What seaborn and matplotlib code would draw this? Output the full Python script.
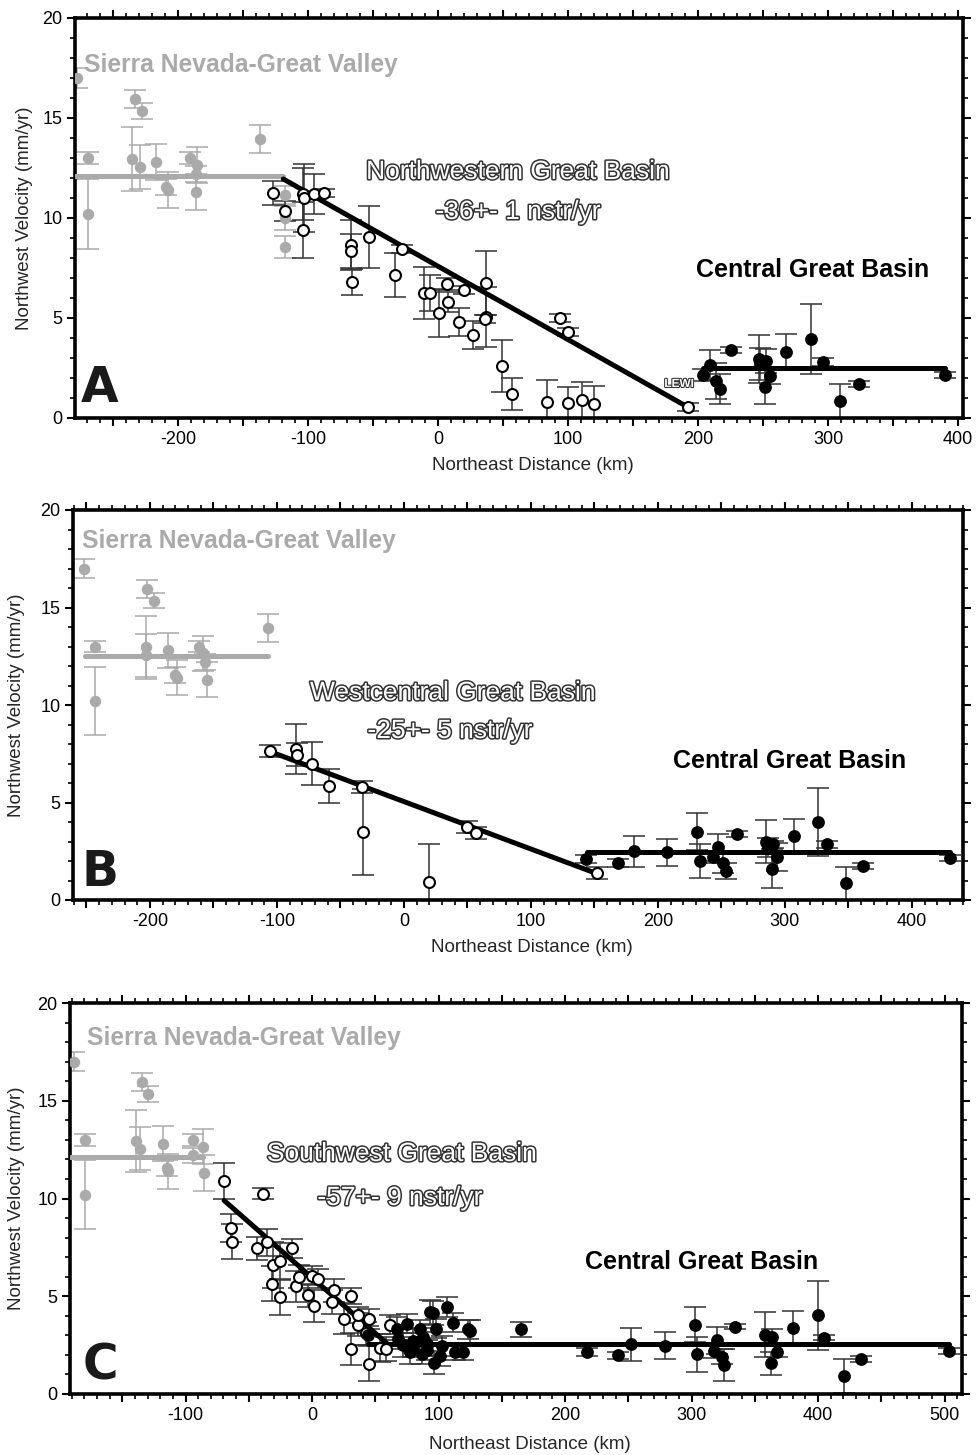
import matplotlib
matplotlib.use("Agg")
import matplotlib.pyplot as plt
import matplotlib.patheffects as pe
from matplotlib.ticker import MultipleLocator, FuncFormatter
import seaborn as sns

# ---------------- data ----------------
# Sierra Nevada - Great Valley (gray), velocity & error (same stations in every panel)
sn_v   = [17.0, 13.0, 10.2, 15.95, 15.35, 12.95, 12.55, 12.8, 11.55, 11.4, 13.0, 12.65, 12.2, 11.3, 13.95]
sn_err = [0.5, 0.3, 1.75, 0.45, 0.4, 1.6, 1.1, 0.9, 0.4, 0.9, 0.3, 0.9, 0.4, 0.9, 0.7]
sn_xA  = [-278, -269, -269, -233, -228, -235, -229, -217, -209, -208, -191, -185, -186, -186, -137]
sn_xB  = [-252, -243, -243, -202, -197, -203, -203, -186, -180, -179, -161, -158, -157, -155, -107]
sn_xC  = [-188, -179.5, -179.5, -134, -129.5, -139, -136, -118, -114.5, -114, -94, -86, -94, -85, None]
# extra gray stations in panel A
snA_extra_x   = [-118, -118, -118]
snA_extra_v   = [11.15, 10.0, 8.55]
snA_extra_err = [0.45, 0.6, 0.55]

# Panel A: Northwestern Great Basin (open)
nwA_x   = [-127, -118, -104, -103, -104, -95, -88, -67, -67, -66, -53, -33, -28, -11, -6, 1, 7, 8,
           16, 20, 27, 37, 37, 36, 49, 57, 84, 100, 111, 120, 94, 100, 192]
nwA_v   = [11.25, 10.35, 11.2, 11.0, 9.4, 11.2, 11.25, 8.65, 8.35, 6.8, 9.05, 7.15, 8.45, 6.25, 6.25, 5.25, 6.7, 5.8,
           4.8, 6.4, 4.15, 6.75, 5.05, 4.95, 2.6, 1.2, 0.8, 0.75, 0.9, 0.7, 5.0, 4.3, 0.55]
nwA_err = [0.6, 0.5, 1.3, 1.7, 1.4, 1.0, 0.2, 1.25, 0.85, 0.65, 1.55, 1.1, 0.2, 1.3, 0.9, 1.2, 0.3, 0.5,
           0.7, 0.2, 0.7, 1.6, 1.5, 0.2, 1.3, 0.8, 1.1, 0.8, 0.9, 0.9, 0.2, 0.2, 0.2]
# Panel A: Central Great Basin (filled)
cgA_x   = [204, 209, 214, 217, 225.5, 247, 248, 252, 251.5, 255.5, 268, 287, 296, 309, 324, 390]
cgA_v   = [2.15, 2.65, 1.85, 1.45, 3.4, 2.95, 2.7, 2.85, 1.55, 2.1, 3.3, 3.95, 2.8, 0.85, 1.7, 2.15]
cgA_err = [0.3, 0.75, 0.9, 0.75, 0.15, 1.2, 0.8, 0.6, 0.85, 0.4, 0.9, 1.75, 0.2, 0.85, 0.15, 0.15]

# Panel B: Westcentral Great Basin (open)
wcB_x   = [-105.5, -85, -84, -72.5, -59, -33, -32, 20, 50, 57, 152]
wcB_v   = [7.65, 7.75, 7.45, 7.0, 5.85, 5.8, 3.5, 0.9, 3.75, 3.45, 1.4]
wcB_err = [0.3, 1.3, 0.6, 1.1, 0.85, 0.3, 2.2, 1.95, 0.3, 0.3, 0.3]
# Panel B: Central Great Basin (filled)
cgB_x   = [143, 168.5, 181, 207, 230.5, 233, 243, 247, 251, 253.5, 262, 285, 287, 290.5, 290, 294,
           307, 326, 333, 348, 361.5, 430]
cgB_v   = [2.1, 1.9, 2.5, 2.45, 3.5, 2.0, 2.2, 2.7, 1.9, 1.5, 3.4, 3.0, 2.7, 2.85, 1.6, 2.2,
           3.3, 4.0, 2.85, 0.85, 1.75, 2.15]
cgB_err = [0.2, 0.2, 0.8, 0.7, 0.95, 0.85, 0.3, 0.7, 0.5, 0.4, 0.15, 1.1, 0.5, 0.2, 1.0, 0.7,
           0.85, 1.75, 0.2, 0.85, 0.15, 0.15]

# Panel C: Southwest Great Basin (open)
swC_x   = [-69.5, -38.5, -64, -63, -43.5, -35.5, -31, -25, -31.5, -25, -16, -12.5, -10, -3, 1.5, 0, 5,
           15.5, 17.5, 31, 25, 36.5, 36, 45, 31, 42.5, 45, 54, 58.5, 62]
swC_v   = [10.9, 10.25, 8.5, 7.8, 7.45, 7.75, 6.6, 6.8, 5.65, 4.95, 7.45, 5.5, 6.0, 5.05, 4.5, 6.05, 5.9,
           4.7, 5.3, 5.0, 3.85, 3.55, 4.05, 3.85, 2.3, 3.1, 1.55, 2.35, 2.3, 3.55]
swC_err = [0.9, 0.3, 0.7, 0.9, 0.6, 0.7, 1.2, 0.9, 0.9, 0.9, 0.5, 0.8, 0.6, 0.6, 0.8, 0.5, 0.5,
           0.6, 0.6, 0.4, 0.8, 0.6, 0.4, 0.5, 0.8, 0.6, 0.9, 0.7, 0.6, 0.5]
# Panel C: Central Great Basin (filled)
cgC_x   = [44.5, 67, 75, 77.5, 80, 85.5, 87, 91, 95.5, 96.5, 98, 106.5, 111.5, 119.5, 125, 113, 80, 68,
           103, 91, 101, 93, 72, 88, 123,
           165.4, 217.3, 242, 252, 278.7, 303, 304.6, 317.6, 320.5, 324, 325.4, 334, 358, 363.7, 363,
           367.4, 380, 400.3, 404.6, 420.7, 434.3, 503.5]
cgC_v   = [3.0, 3.35, 3.6, 2.15, 2.7, 3.3, 2.05, 2.55, 4.15, 1.6, 3.35, 4.45, 3.65, 2.15, 3.2, 2.15, 2.4, 2.8,
           2.45, 2.25, 1.95, 4.2, 2.5, 2.9, 3.3,
           3.3, 2.15, 1.97, 2.55, 2.48, 3.55, 2.03, 2.22, 2.74, 1.91, 1.49, 3.45, 3.03, 2.9, 1.57,
           2.17, 3.37, 4.02, 2.89, 0.92, 1.78, 2.19]
cgC_err = [0.5, 0.6, 0.5, 0.6, 0.6, 0.5, 0.5, 0.6, 0.6, 0.6, 0.5, 0.5, 0.5, 0.4, 0.6, 0.4, 0.5, 0.5,
           0.5, 0.5, 0.5, 0.6, 0.6, 0.5, 0.5,
           0.4, 0.2, 0.2, 0.85, 0.7, 0.9, 0.9, 0.4, 0.7, 0.4, 0.8, 0.15, 1.15, 0.4, 0.6,
           0.3, 0.9, 1.75, 0.15, 0.85, 0.15, 0.15]

# fitted lines (end points)
fitA_sn_x, fitA_sn_v = [-279, -119], [12.1, 12.1]
fitA_nw_x, fitA_nw_v = [-119, 192], [11.95, 0.55]
fitA_cg_x, fitA_cg_v = [204, 390], [2.5, 2.5]
fitB_sn_x, fitB_sn_v = [-251, -107], [12.5, 12.5]
fitB_wc_x, fitB_wc_v = [-105, 152], [7.6, 1.35]
fitB_cg_x, fitB_cg_v = [144, 430], [2.47, 2.47]
fitC_sn_x, fitC_sn_v = [-191, -86], [12.1, 12.1]
fitC_sw_x, fitC_sw_v = [-69.5, 59], [9.9, 2.6]
fitC_cg_x, fitC_cg_v = [44.5, 503.5], [2.55, 2.55]

# ---------------- style ----------------
sns.set_theme(style="ticks")
plt.rcParams['font.family'] = ['Liberation Sans', 'DejaVu Sans']
plt.rcParams['axes.unicode_minus'] = False

GRAY = '#aaaaaa'
EBLK = '#333333'

fig = plt.figure(figsize=(9.8, 14.55), dpi=100)
W, H = 980.0, 1455.0


def add_ax(left, right, top, bottom):
    return fig.add_axes([left / W, 1 - bottom / H, (right - left) / W, (bottom - top) / H])


def err(ax, x, v, e, color, z=2):
    ax.errorbar(x, v, yerr=e, fmt='none', ecolor=color, elinewidth=1.1,
                capsize=8, capthick=1.1, zorder=z)


def pts(ax, x, v, kind):
    if kind == 'gray':
        sns.scatterplot(x=x, y=v, ax=ax, color=GRAY, s=68, linewidth=0, zorder=4, legend=False)
    elif kind == 'open':
        sns.scatterplot(x=x, y=v, ax=ax, color='white', edgecolor='black', s=62,
                        linewidth=1.5, zorder=5, legend=False)
    else:
        sns.scatterplot(x=x, y=v, ax=ax, color='black', s=85, linewidth=0, zorder=5, legend=False)


def fit(ax, x, v, color):
    sns.lineplot(x=x, y=v, ax=ax, color=color, lw=3.6, zorder=3, sort=False, legend=False)


def style(ax, xlim, xlab_y, ylab_x):
    ax.set_xlim(*xlim)
    ax.set_ylim(0, 20)
    ax.xaxis.set_major_locator(MultipleLocator(50))
    ax.xaxis.set_minor_locator(MultipleLocator(10))
    ax.xaxis.set_major_formatter(FuncFormatter(
        lambda val, pos: f"{int(round(val))}" if round(val) % 100 == 0 else ""))
    ax.yaxis.set_major_locator(MultipleLocator(5))
    ax.yaxis.set_minor_locator(MultipleLocator(1))
    ax.tick_params(which='both', direction='out', top=True, right=True,
                   labeltop=False, labelright=False, labelsize=13, colors='black', pad=3)
    ax.tick_params(which='major', length=6, width=1.5)
    ax.tick_params(which='minor', length=3.5, width=1.2)
    for s in ax.spines.values():
        s.set_linewidth(2.6)
        s.set_color('black')
    ax.set_xlabel('Northeast Distance (km)', fontsize=13.5)
    ax.set_ylabel('Northwest Velocity (mm/yr)', fontsize=13.5)
    ax.xaxis.set_label_coords(0.516, xlab_y)
    ax.yaxis.set_label_coords(ylab_x, 0.5)
    ax.set_facecolor('white')


outline = [pe.withStroke(linewidth=2.2, foreground='#333333')]


def ftext(x, y, s, **kw):
    fig.text(x / W, 1 - y / H, s, **kw)


# ---------- Panel A ----------
axA = add_ax(75, 963, 18, 418)
xa = sn_xA + snA_extra_x
va = sn_v + snA_extra_v
ea = sn_err + snA_extra_err
err(axA, xa, va, ea, GRAY)
err(axA, nwA_x, nwA_v, nwA_err, EBLK)
err(axA, cgA_x, cgA_v, cgA_err, EBLK)
fit(axA, fitA_sn_x, fitA_sn_v, GRAY)
fit(axA, fitA_nw_x, fitA_nw_v, 'black')
fit(axA, fitA_cg_x, fitA_cg_v, 'black')
pts(axA, xa, va, 'gray')
pts(axA, nwA_x, nwA_v, 'open')
pts(axA, cgA_x, cgA_v, 'filled')
style(axA, (-279.2, 403.8), -0.097, -0.047)

# ---------- Panel B ----------
axB = add_ax(73, 963, 510, 900)
err(axB, sn_xB, sn_v, sn_err, GRAY)
err(axB, wcB_x, wcB_v, wcB_err, EBLK)
err(axB, cgB_x, cgB_v, cgB_err, EBLK)
fit(axB, fitB_sn_x, fitB_sn_v, GRAY)
fit(axB, fitB_wc_x, fitB_wc_v, 'black')
fit(axB, fitB_cg_x, fitB_cg_v, 'black')
pts(axB, sn_xB, sn_v, 'gray')
pts(axB, wcB_x, wcB_v, 'open')
pts(axB, cgB_x, cgB_v, 'filled')
style(axB, (-260.6, 440.2), -0.1, -0.054)

# ---------- Panel C ----------
axC = add_ax(70, 962, 1003, 1394)
cx = [x for x in sn_xC if x is not None]
cv = [v for x, v in zip(sn_xC, sn_v) if x is not None]
ce = [e for x, e in zip(sn_xC, sn_err) if x is not None]
err(axC, cx, cv, ce, GRAY)
err(axC, swC_x, swC_v, swC_err, EBLK)
err(axC, cgC_x, cgC_v, cgC_err, EBLK)
fit(axC, fitC_sn_x, fitC_sn_v, GRAY)
fit(axC, fitC_sw_x, fitC_sw_v, 'black')
fit(axC, fitC_cg_x, fitC_cg_v, 'black')
pts(axC, cx, cv, 'gray')
pts(axC, swC_x, swC_v, 'open')
pts(axC, cgC_x, cgC_v, 'filled')
style(axC, (-191.3, 513.8), -0.108, -0.050)

# ---------- texts ----------
sn_kw = dict(color=GRAY, fontsize=17.7, fontweight='bold', ha='left', va='center')
ftext(84, 65, 'Sierra Nevada-Great Valley', **sn_kw)
ftext(82, 541, 'Sierra Nevada-Great Valley', **sn_kw)
ftext(87, 1038, 'Sierra Nevada-Great Valley', **sn_kw)

cg_kw = dict(color='black', fontsize=18, fontweight='bold', ha='center', va='center')
ftext(813, 270, 'Central Great Basin', **cg_kw)
ftext(790, 761, 'Central Great Basin', **cg_kw)
ftext(702, 1262, 'Central Great Basin', **cg_kw)

ol_kw = dict(color='white', fontsize=19, ha='center', va='center', path_effects=outline)
ftext(518, 172, 'Northwestern Great Basin', **ol_kw)
ftext(518, 212, '-36+- 1 nstr/yr', **ol_kw)
ftext(453, 693, 'Westcentral Great Basin', **ol_kw)
ftext(450, 731, '-25+- 5 nstr/yr', **ol_kw)
ftext(402, 1154, 'Southwest Great Basin', **ol_kw)
ftext(400, 1198, '-57+- 9 nstr/yr', **ol_kw)
ftext(679, 384, 'LEWI', color='white', fontsize=8.5, fontweight='bold', ha='center', va='center',
      path_effects=[pe.withStroke(linewidth=1.5, foreground='#333333')])

let_kw = dict(color='#1a1a1a', fontsize=35, fontweight='bold', ha='center', va='center',
              family='DejaVu Sans')
ftext(100, 388, 'A', **let_kw)
ftext(100, 872, 'B', **let_kw)
ftext(100, 1365, 'C', **let_kw)

fig.savefig('out.png', dpi=100, facecolor='white')
